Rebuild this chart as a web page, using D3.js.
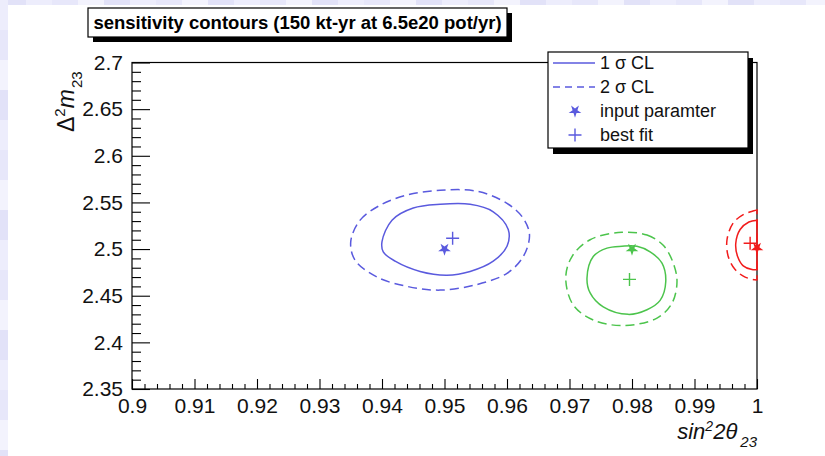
<!DOCTYPE html>
<html>
<head>
<meta charset="utf-8">
<script src="https://cdn.jsdelivr.net/npm/d3@7"></script>
<style>
  html, body { margin: 0; padding: 0; background: #ffffff; }
  svg { display: block; font-family: "Liberation Sans", Arial, Helvetica, sans-serif; }
</style>
</head>
<body>
<svg id="chart" width="825" height="456"></svg>
<script>
// ---- axis ticks ----
const xTickValues = [0.90, 0.91, 0.92, 0.93, 0.94, 0.95, 0.96, 0.97, 0.98, 0.99, 1.00];
const xTickLabels = ["0.9", "0.91", "0.92", "0.93", "0.94", "0.95", "0.96", "0.97", "0.98", "0.99", "1"];
const yTickValues = [2.35, 2.40, 2.45, 2.50, 2.55, 2.60, 2.65, 2.70];
const yTickLabels = ["2.35", "2.4", "2.45", "2.5", "2.55", "2.6", "2.65", "2.7"];

// ---- input parameters (star) and best fits (cross), one per scenario ----
const inputX = [0.950, 0.980, 1.000];
const inputY = [2.500, 2.500, 2.501];
const fitX = [0.9513, 0.9796, 0.9989];
const fitY = [2.5116, 2.4675, 2.5062];

// ---- contours: [sin^2 2theta23, dm^2_23] vertices ----
const blue1Sigma = [
  [0.9400, 2.508], [0.9416, 2.531], [0.9450, 2.544], [0.9493, 2.548], [0.9541, 2.548],
  [0.9578, 2.540], [0.9602, 2.521], [0.9600, 2.503], [0.9578, 2.487], [0.9541, 2.476],
  [0.9504, 2.472], [0.9461, 2.476], [0.9421, 2.487], [0.9402, 2.497]
];
const blue2Sigma = [
  [0.9350, 2.508], [0.9365, 2.531], [0.9397, 2.547], [0.9440, 2.558], [0.9493, 2.563],
  [0.9552, 2.562], [0.9600, 2.549], [0.9626, 2.533], [0.9636, 2.515], [0.9626, 2.492],
  [0.9600, 2.474], [0.9552, 2.462], [0.9493, 2.456], [0.9440, 2.460], [0.9392, 2.470],
  [0.9357, 2.488]
];
const green1Sigma = [
  [0.9760, 2.501], [0.9738, 2.492], [0.9728, 2.469], [0.9733, 2.453], [0.9754, 2.438],
  [0.9794, 2.430], [0.9824, 2.435], [0.9845, 2.445], [0.9854, 2.465], [0.9848, 2.485],
  [0.9829, 2.497], [0.9808, 2.503], [0.9784, 2.503]
];
const green2Sigma = [
  [0.9784, 2.518], [0.9824, 2.515], [0.9850, 2.504], [0.9866, 2.485], [0.9872, 2.465],
  [0.9864, 2.442], [0.9840, 2.426], [0.9786, 2.418], [0.9738, 2.424], [0.9706, 2.440],
  [0.9694, 2.469], [0.9704, 2.492], [0.9733, 2.510]
];
// the red contours meet the physical boundary sin^2 2theta23 = 1
const red1Sigma = [
  [1.0000, 2.531], [0.9987, 2.529], [0.9973, 2.521], [0.9966, 2.506], [0.9969, 2.492],
  [0.9978, 2.482], [0.9992, 2.478], [1.0000, 2.478]
];
const red2Sigma = [
  [1.0000, 2.542], [0.9995, 2.541], [0.9978, 2.537], [0.9962, 2.528], [0.9952, 2.510],
  [0.9954, 2.492], [0.9965, 2.478], [0.9981, 2.470], [0.9997, 2.467], [1.0000, 2.467]
];

const legendLabels = ["1 \u03c3 CL", "2 \u03c3 CL", "input paramter", "best fit"];

// ---- styling ----
const colors = ["#5a5ade", "#4cc44c", "#f21c1c"];
const dashPattern = "9,5";

const svg = d3.select("#chart");

// slide backdrop strips along the top and left edges
const bgTones = ["#e2e2f8", "#ededfc", "#e7e7fa", "#f3f3fd"];
const bg = svg.append("g");
d3.range(0, 825, 26).forEach((bx, i) => {
  bg.append("rect").attr("x", bx).attr("y", 0).attr("width", 26).attr("height", 5)
    .attr("fill", bgTones[i % bgTones.length]);
});
d3.range(0, 456, 30).forEach((by, i) => {
  bg.append("rect").attr("x", 0).attr("y", by).attr("width", 8).attr("height", 30)
    .attr("fill", bgTones[(i + 1) % bgTones.length]);
});

const x = d3.scaleLinear().domain([0.9, 1.0]).range([132, 757]);
const y = d3.scaleLinear().domain([2.35, 2.7]).range([389, 62.5]);
const [x0, x1] = x.range();
const [y0, y1] = y.range();

// frame
svg.append("rect")
  .attr("x", x0).attr("y", y1).attr("width", x1 - x0).attr("height", y0 - y1)
  .attr("fill", "none").attr("stroke", "#000").attr("stroke-width", 1.2);

const tickFont = 21;

// bottom axis: major + minor ticks pointing into the frame
const xMinor = d3.range(0, 51).map(i => 0.9 + i * 0.002).filter(v => Math.round(v * 1000) % 10 !== 0);
const gxMinor = svg.append("g").attr("transform", `translate(0,${y0})`)
  .call(d3.axisBottom(x).tickValues(xMinor).tickSize(-5).tickFormat(""));
const gx = svg.append("g").attr("transform", `translate(0,${y0})`)
  .call(d3.axisBottom(x).tickValues(xTickValues).tickSize(-10).tickPadding(9)
    .tickFormat((d, i) => xTickLabels[i]));

// left axis
const yMinor = d3.range(0, 36).map(i => 2.35 + i * 0.01).filter(v => Math.round(v * 100) % 5 !== 0);
const gyMinor = svg.append("g").attr("transform", `translate(${x0},0)`)
  .call(d3.axisLeft(y).tickValues(yMinor).tickSize(-9).tickFormat(""));
const gy = svg.append("g").attr("transform", `translate(${x0},0)`)
  .call(d3.axisLeft(y).tickValues(yTickValues).tickSize(-18).tickPadding(9)
    .tickFormat((d, i) => yTickLabels[i]));

[gx, gy, gxMinor, gyMinor].forEach(g => {
  g.select(".domain").remove();
  g.selectAll(".tick line").attr("stroke", "#000").attr("stroke-width", 1.1);
  g.selectAll(".tick text").attr("fill", "#111").style("font-size", tickFont + "px")
    .style("font-family", "'Liberation Sans', Arial, sans-serif");
});

// axis titles
const xt = svg.append("text")
  .attr("x", x1).attr("y", 439).attr("text-anchor", "end")
  .style("font-size", "22px").style("font-style", "italic").attr("fill", "#111");
xt.append("tspan").text("sin");
xt.append("tspan").attr("dy", -8).style("font-size", "14px").text("2");
xt.append("tspan").attr("dy", 8).text("2\u03b8");
xt.append("tspan").attr("dy", 8).attr("dx", 3).style("font-size", "15px").text("23");

const yt = svg.append("text")
  .attr("transform", "translate(74,132) rotate(-90)")
  .style("font-size", "23px").attr("fill", "#111");
yt.append("tspan").text("\u0394");
yt.append("tspan").attr("dy", -9).style("font-size", "15px").text("2");
yt.append("tspan").attr("dy", 9).style("font-style", "italic").text("m");
yt.append("tspan").attr("dy", 8).attr("dx", 1).style("font-size", "15px").text("23");

// contours
const path = d3.line().x(d => x(d[0])).y(d => y(d[1]));
const contours = [
  { pts: blue1Sigma, c: 0, dashed: false, closed: true },
  { pts: blue2Sigma, c: 0, dashed: true, closed: true },
  { pts: green1Sigma, c: 1, dashed: false, closed: true },
  { pts: green2Sigma, c: 1, dashed: true, closed: true },
  { pts: red1Sigma, c: 2, dashed: false, closed: false },
  { pts: red2Sigma, c: 2, dashed: true, closed: false }
];
contours.forEach(k => {
  const gen = path.curve(k.closed ? d3.curveCatmullRomClosed : d3.curveCatmullRom.alpha(0.5));
  let d = gen(k.pts);
  if (!k.closed) d += "Z";
  svg.append("path").attr("d", d)
    .attr("fill", "none").attr("stroke", colors[k.c]).attr("stroke-width", 1.5)
    .attr("stroke-dasharray", k.dashed ? dashPattern : null);
});

// markers
const star = d3.symbol().type(d3.symbolStar).size(50);
const crossArm = 6.5;
function drawCross(g, cx, cy, color) {
  g.append("path")
    .attr("d", `M${cx - crossArm},${cy}H${cx + crossArm}M${cx},${cy - crossArm}V${cy + crossArm}`)
    .attr("stroke", color).attr("stroke-width", 1.4).attr("fill", "none");
}
inputX.forEach((v, i) => {
  svg.append("path").attr("d", star())
    .attr("transform", `translate(${x(v)},${y(inputY[i])}) rotate(180)`)
    .attr("fill", colors[i]);
});
fitX.forEach((v, i) => drawCross(svg, x(v), y(fitY[i]), colors[i]));

// title box with drop shadow
const tb = { x: 88, y: 8, w: 419, h: 29 };
svg.append("rect").attr("x", tb.x + 5).attr("y", tb.y + 5).attr("width", tb.w).attr("height", tb.h).attr("fill", "#000");
svg.append("rect").attr("x", tb.x).attr("y", tb.y).attr("width", tb.w).attr("height", tb.h)
  .attr("fill", "#fff").attr("stroke", "#000").attr("stroke-width", 1.2);
svg.append("text").attr("x", tb.x + tb.w / 2).attr("y", tb.y + tb.h / 2).attr("dy", "0.36em")
  .attr("text-anchor", "middle").style("font-size", "18.5px").style("font-weight", "bold")
  .attr("fill", "#000")
  .text("sensitivity contours (150 kt-yr at 6.5e20 pot/yr)");

// legend with drop shadow
const lb = { x: 548, y: 52, w: 200, h: 96 };
svg.append("rect").attr("x", lb.x + 5).attr("y", lb.y + 6).attr("width", lb.w).attr("height", lb.h).attr("fill", "#000");
svg.append("rect").attr("x", lb.x).attr("y", lb.y).attr("width", lb.w).attr("height", lb.h)
  .attr("fill", "#fff").attr("stroke", "#000").attr("stroke-width", 1.2);
const rowY = d3.scalePoint().domain(d3.range(legendLabels.length)).range([lb.y + 11, lb.y + 83]);
legendLabels.forEach((lab, i) => {
  const ry = rowY(i);
  if (i < 2) {
    svg.append("line").attr("x1", lb.x + 5).attr("x2", lb.x + 47).attr("y1", ry).attr("y2", ry)
      .attr("stroke", colors[0]).attr("stroke-width", 1.5)
      .attr("stroke-dasharray", i === 1 ? "7,5" : null);
  } else if (i === 2) {
    svg.append("path").attr("d", star()).attr("transform", `translate(${lb.x + 27},${ry}) rotate(180)`)
      .attr("fill", colors[0]);
  } else {
    drawCross(svg, lb.x + 27, ry, colors[0]);
  }
  svg.append("text").attr("x", lb.x + 52).attr("y", ry).attr("dy", "0.35em")
    .style("font-size", "18px").attr("fill", "#111").text(lab);
});
</script>
</body>
</html>
